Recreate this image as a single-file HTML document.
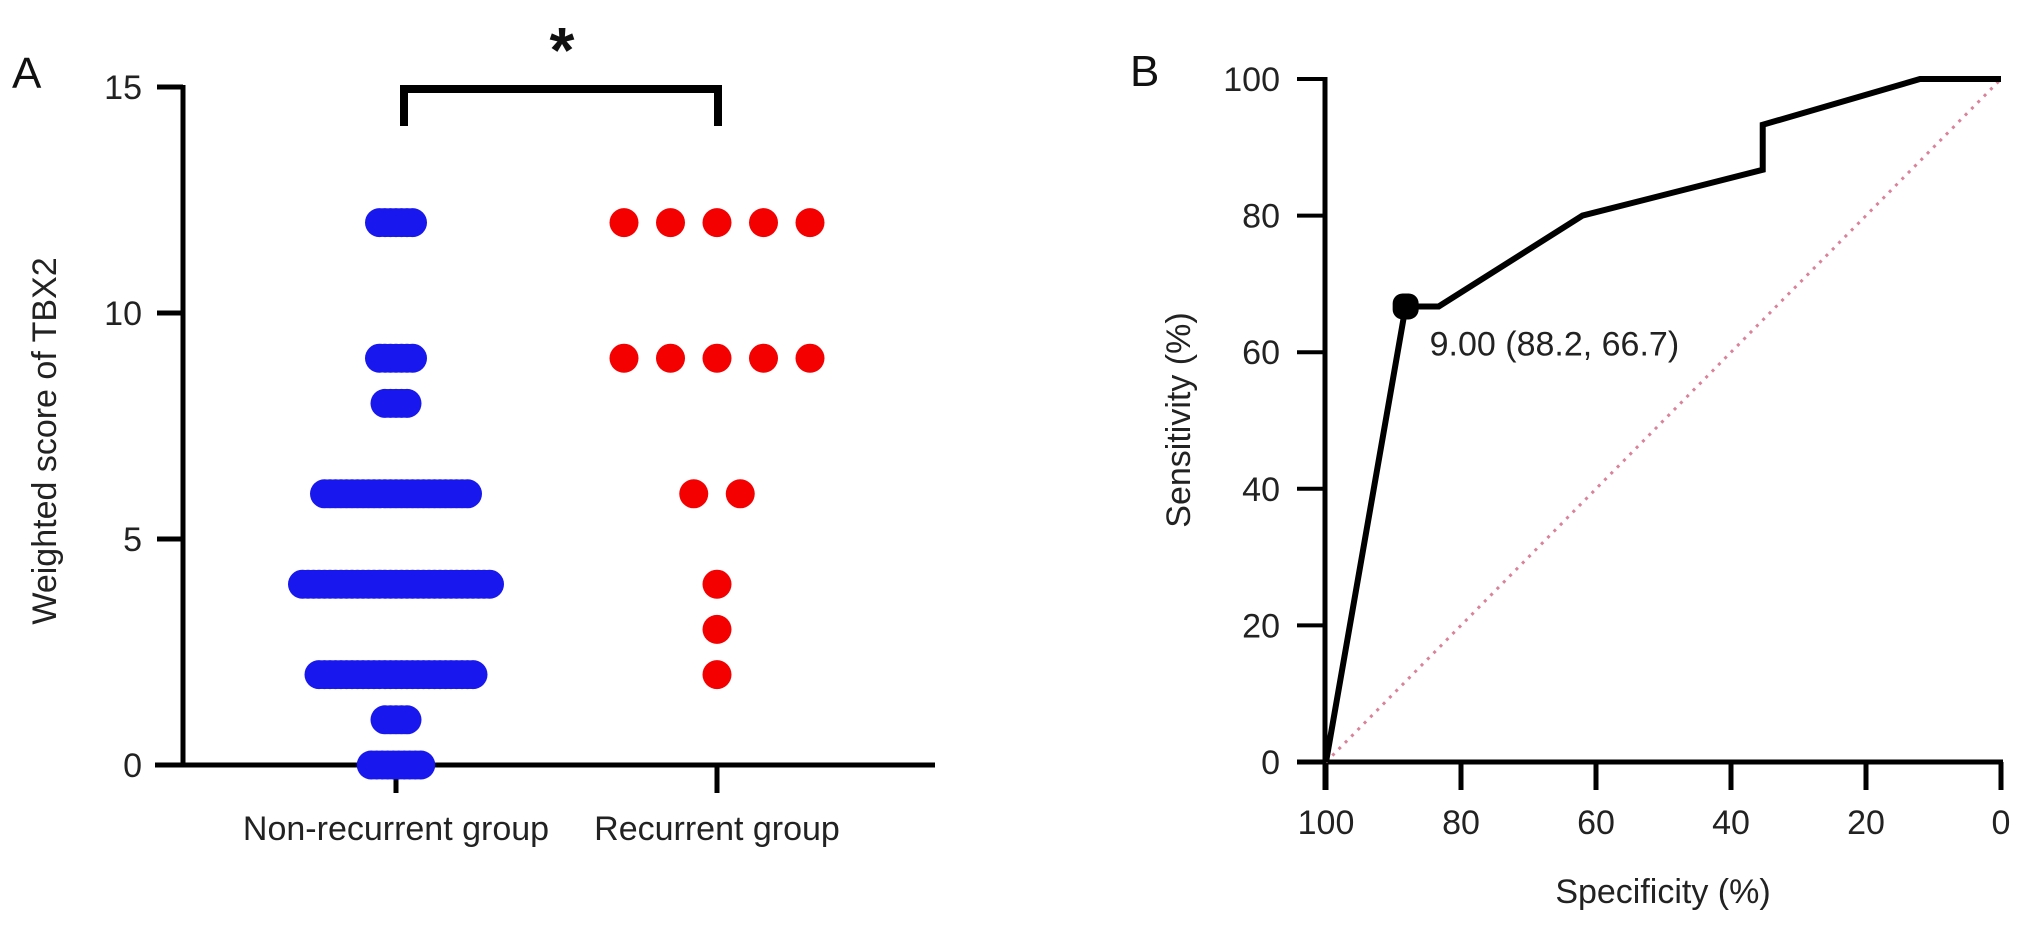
<!DOCTYPE html>
<html><head><meta charset="utf-8"><style>
html,body{margin:0;padding:0;background:#fff;}
svg{display:block;font-family:"Liberation Sans",Arial,sans-serif;}
</style></head><body>
<svg width="2032" height="927" viewBox="0 0 2032 927" id="fig">
<g id="panelA"></g>
<g id="panelB"></g>
</svg>
<script>
// Panel A data
const aCategories = ["Non-recurrent group", "Recurrent group"];
const aYTicks = [0, 5, 10, 15];
const blueScores = [12, 9, 8, 6, 4, 2, 1, 0];
const blueCounts = [7, 7, 5, 27, 35, 29, 5, 10];
const redScores = [12, 9, 6, 4, 3, 2];
const redCounts = [5, 5, 2, 1, 1, 1];
// Panel B data
const rocSpec = [100, 88.2, 83.3, 62, 35.3, 35.3, 12, 0];
const rocSens = [0, 66.7, 66.7, 80, 86.7, 93.3, 100, 100];
const bXTicks = [100, 80, 60, 40, 20, 0];
const bYTicks = [0, 20, 40, 60, 80, 100];
const cutSpec = 88.2, cutSens = 66.7;
const cutLabel = "9.00 (88.2, 66.7)";

const NS = "http://www.w3.org/2000/svg";
function mk(tag, parent, attrs, text) {
  const e = document.createElementNS(NS, tag);
  for (const k in attrs) e.setAttribute(k, attrs[k]);
  if (text !== undefined) e.textContent = text;
  parent.appendChild(e);
  return e;
}
const FS = 34;

// ---------- Panel A ----------
const A = document.getElementById('panelA');
const ay = v => 765 - v * (765 - 87) / 15;
const catX = [396, 717];
let e;
e = mk('line', A, {x1:183, y1:85, x2:183, y2:767, stroke:'#000', 'stroke-width':5});
 
e = mk('line', A, {x1:155, y1:765, x2:935, y2:765, stroke:'#000', 'stroke-width':5});
 
aYTicks.forEach(t => {
  const y = ay(t);
  e = mk('line', A, {x1:157, y1:y, x2:183, y2:y, stroke:'#000', 'stroke-width':5});
   
  e = mk('text', A, {x:142, y:y + 12, 'text-anchor':'end', 'font-size':FS, fill:'#222'}, String(t));
   
});
aCategories.forEach((c, i) => {
  e = mk('line', A, {x1:catX[i], y1:765, x2:catX[i], y2:793, stroke:'#000', 'stroke-width':5});
   
  e = mk('text', A, {x:catX[i], y:840, 'text-anchor':'middle', 'font-size':FS, fill:'#222'}, c);
   
});
e = mk('text', A, {x:0, y:0, transform:'translate(56,441) rotate(-90)', 'text-anchor':'middle', 'font-size':FS, fill:'#222'}, 'Weighted score of TBX2');
 
e = mk('text', A, {x:12, y:88, 'font-size':44, fill:'#111'}, 'A');
 
e = mk('path', A, {d:'M404 126 V89 H718 V126', fill:'none', stroke:'#000', 'stroke-width':8});
 
e = mk('text', A, {x:562, y:72, 'text-anchor':'middle', 'font-size':64, 'font-weight':'bold', fill:'#111'}, '*');
 
const bs = 5.5;
blueScores.forEach((s, i) => {
  const n = blueCounts[i];
  for (let k = 0; k < n; k++) {
    const x = catX[0] + (k - (n - 1) / 2) * bs;
    e = mk('circle', A, {cx:x, cy:ay(s), r:14.5, fill:'#1818ee'});
     
  }
});
const rs = 46.5;
redScores.forEach((s, i) => {
  const n = redCounts[i];
  for (let k = 0; k < n; k++) {
    const x = catX[1] + (k - (n - 1) / 2) * rs;
    e = mk('circle', A, {cx:x, cy:ay(s), r:14.5, fill:'#f40000'});
     
  }
});

// ---------- Panel B ----------
const B = document.getElementById('panelB');
const bx = s => 1326 + (100 - s) * 6.75;
const by = v => 762 - v * 6.83;
e = mk('line', B, {x1:1325, y1:by(100) - 2, x2:1325, y2:790, stroke:'#000', 'stroke-width':5});
 
e = mk('line', B, {x1:1297, y1:762, x2:2003, y2:762, stroke:'#000', 'stroke-width':5});
 
bYTicks.forEach(t => {
  const y = by(t);
  e = mk('line', B, {x1:1297, y1:y, x2:1325, y2:y, stroke:'#000', 'stroke-width':4});
   
  e = mk('text', B, {x:1280, y:y + 12, 'text-anchor':'end', 'font-size':FS, fill:'#222'}, String(t));
   
});
bXTicks.forEach(t => {
  const x = bx(t);
  e = mk('line', B, {x1:x, y1:762, x2:x, y2:790, stroke:'#000', 'stroke-width':5});
   
  e = mk('text', B, {x:x, y:834, 'text-anchor':'middle', 'font-size':FS, fill:'#222'}, String(t));
   
});
e = mk('text', B, {x:0, y:0, transform:'translate(1190,420) rotate(-90)', 'text-anchor':'middle', 'font-size':FS, fill:'#222'}, 'Sensitivity (%)');
 
e = mk('text', B, {x:1663, y:903, 'text-anchor':'middle', 'font-size':FS, fill:'#222'}, 'Specificity (%)');
 
e = mk('text', B, {x:1130, y:86, 'font-size':44, fill:'#111'}, 'B');
 
e = mk('line', B, {x1:bx(100), y1:by(0), x2:bx(0), y2:by(100), stroke:'#d9829a', 'stroke-width':3, 'stroke-dasharray':'3 6'});
 
const pts = rocSpec.map((s, i) => bx(s) + ',' + by(rocSens[i])).join(' ');
e = mk('polyline', B, {points:pts, fill:'none', stroke:'#000', 'stroke-width':6, 'stroke-linejoin':'miter'});
 
e = mk('rect', B, {x:bx(cutSpec) - 13, y:by(cutSens) - 13, width:26, height:26, rx:10, fill:'#000'});
 
e = mk('text', B, {x:bx(cutSpec) + 24, y:by(cutSens) + 49, 'font-size':FS, fill:'#222'}, cutLabel);
 
</script>
</body></html>
